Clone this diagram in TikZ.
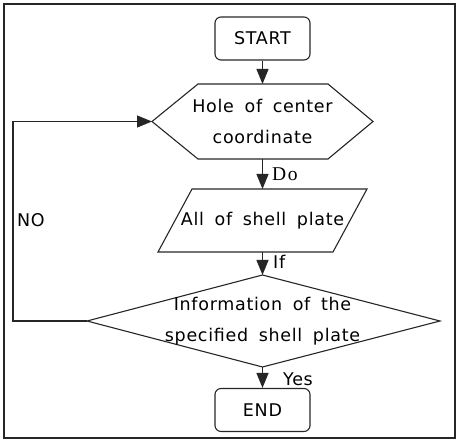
\documentclass[tikz,border=0pt]{standalone}
\usepackage{fontspec}
\setmainfont{DejaVu Sans}[LetterSpace=4,WordSpace=1.7]
\newfontfamily\lblserif{Liberation Serif}[LetterSpace=8]
\usetikzlibrary{arrows.meta}
\tikzset{
  line/.style={draw=black!85, line width=1.1pt},
  arr/.style={line, -{Triangle[length=15pt,width=12pt]}},
  txt/.style={inner sep=0pt, align=center, font=\fontsize{17.5}{31}\selectfont},
  lbl/.style={inner sep=0pt, anchor=west, font=\fontsize{17.5}{21}\selectfont},
  term/.style={line, rounded corners=6pt, minimum width=95pt, minimum height=43pt,
    inner sep=0pt, font=\fontsize{17.5}{21}\selectfont},
}
\begin{document}
\begin{tikzpicture}[x=1pt,y=-1pt]
\useasboundingbox (0,0) rectangle (459,444);
\draw[draw=black!85, line width=1.5pt] (4,4) rectangle (455,438);

% START
\node[term] (start) at (262.5,38.5) {START};

% hexagon
\draw[line] (152,121.5) coordinate (hexW) -- (198,84) -- (262.5,84) coordinate (hexN)
  -- (328,84) -- (373,121.5) -- (328,159) -- (262.5,159) coordinate (hexS)
  -- (198,159) -- cycle;
\node[txt] (hole) at (262.5,121) {Hole of center\\coordinate};

% parallelogram
\draw[line] (192,189) -- (262.5,189) coordinate (parN) -- (367,189) -- (333,252)
  -- (262.5,252) coordinate (parS) -- (158,252) -- cycle;
\node[txt] (shell) at (262.5,221) {All of shell plate};

% diamond
\draw[line] (262.5,275) coordinate (diaN) -- (440,321) coordinate (diaE)
  -- (262.5,367) coordinate (diaS) -- (87,321) coordinate (diaW) -- cycle;
\node[txt] (info) at (262.5,321) {Information of the\\specified shell plate};

% END
\node[term] (end) at (262.5,410) {END};

% connectors
\draw[arr] (start) -- (hexN);
\draw[arr] (hexS) -- (parN);
\draw[arr] (parS) -- (diaN);
\draw[arr] (diaS) -- (end);
\coordinate (loop) at (13,121.5);
\draw[arr] (diaW) -| (loop) -- (hexW);

% labels
\node[lbl, font=\lblserif\fontsize{19.5}{21}\selectfont] (do) at (272,174.5) {Do};
\node[lbl] (if) at (273,261.5) {If};
\node[lbl] (yes) at (283,379) {Yes};
\node[lbl] (no) at (17,220.5) {NO};
\end{tikzpicture}
\end{document}
